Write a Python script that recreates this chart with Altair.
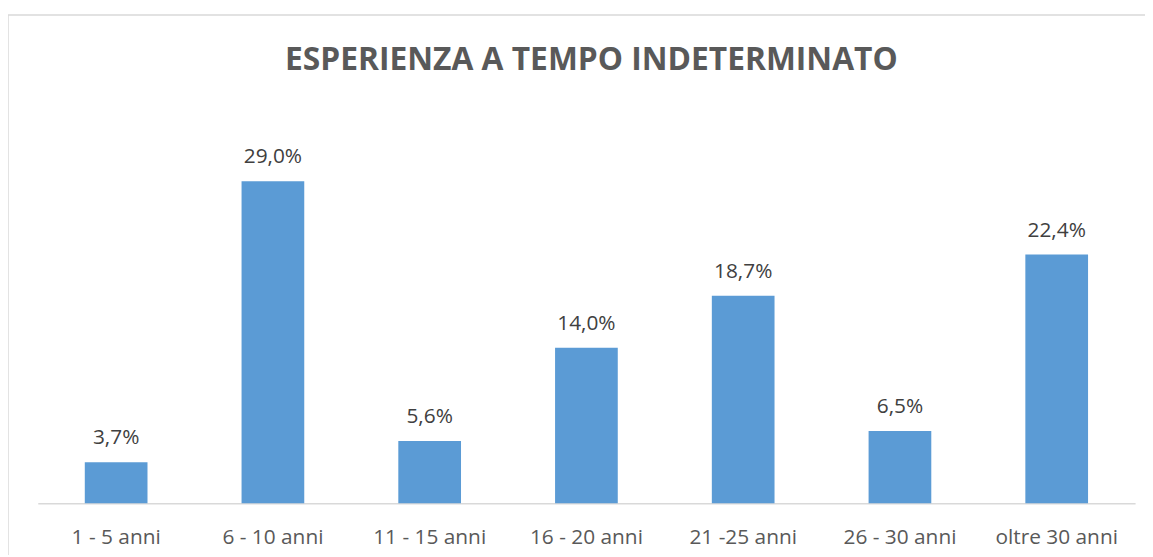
import altair as alt
import pandas as pd

categories = ["1 - 5 anni", "6 - 10 anni", "11 - 15 anni", "16 - 20 anni",
              "21 -25 anni", "26 - 30 anni", "oltre 30 anni"]
values = [3.7, 29.0, 5.6, 14.0, 18.7, 6.5, 22.4]

df = pd.DataFrame({"cat": categories, "val": values})

FONT = "Open Sans"
W, H = 1106, 358

xenc = alt.X("cat:N", sort=categories, title=None,
             scale=alt.Scale(paddingInner=0.6, paddingOuter=0.3),
             axis=alt.Axis(labelAngle=0, ticks=False, domain=True, domainColor="#d9d9d9",
                           domainWidth=1.5, labelFont=FONT, labelFontSize=21,
                           labelColor="#595959", labelPadding=24, grid=False))
yenc = alt.Y("val:Q", title=None, scale=alt.Scale(domain=[0, 32], nice=False),
             axis=None)

base = alt.Chart(df)
bars = base.mark_bar(color="#5B9BD5").encode(x=xenc, y=yenc)
labels = base.transform_calculate(
    lab="replace(format(datum.val, '.1f'), '.', ',') + '%'"
).mark_text(baseline="bottom", dy=-14, font=FONT, fontSize=21, color="#404040").encode(
    x=alt.X("cat:N", sort=categories), y="val:Q", text="lab:N")

border_df = pd.DataFrame({"k": [0]})
border_top = alt.Chart(border_df).mark_rule(color="#d9d9d9", strokeWidth=1.5).encode(
    x=alt.value(-30), x2=alt.value(W + 20), y=alt.value(-134))
border_left = alt.Chart(border_df).mark_rule(color="#d9d9d9", strokeWidth=1.5).encode(
    x=alt.value(-30), y=alt.value(-134), y2=alt.value(H + 60))

chart = alt.layer(border_top, border_left, bars, labels).properties(
    width=W, height=H,
    title=alt.TitleParams("ESPERIENZA A TEMPO INDETERMINATO", font=FONT, fontSize=32,
                          fontWeight="bold", color="#595959", anchor="middle",
                          offset=0, dy=63, dx=5),
    autosize=alt.AutoSizeParams(type="none"),
    padding={"left": 30, "top": 139, "right": 10, "bottom": 50},
).configure_view(stroke=None)

chart.save("out.html", embed_options={"renderer": "svg", "actions": False})
